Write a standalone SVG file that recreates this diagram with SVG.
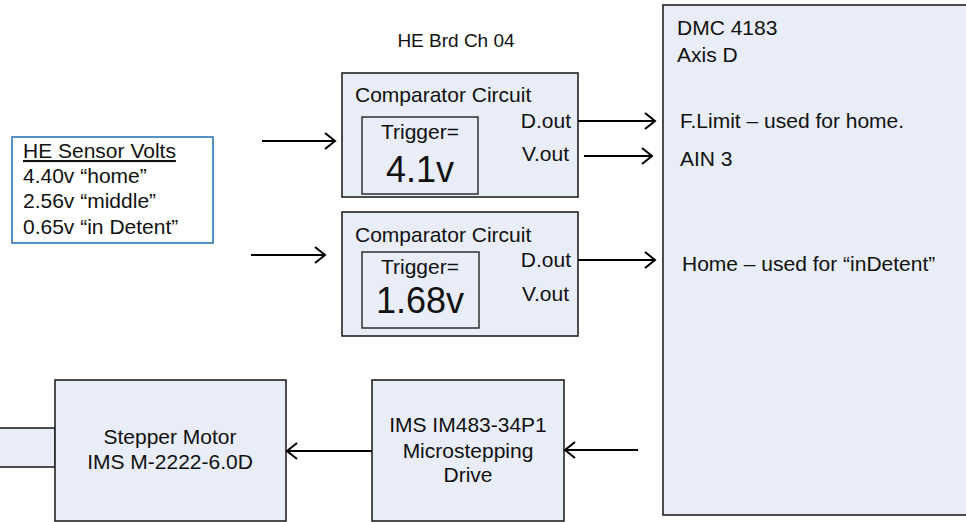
<svg xmlns="http://www.w3.org/2000/svg" width="966" height="522" viewBox="0 0 966 522">
<defs>
<style>
text{font-family:"Liberation Sans",Arial,sans-serif;fill:#111;font-size:21px}
.box{fill:#E8EDF7;stroke:#222;stroke-width:1.6}
.inner{fill:none;stroke:#222;stroke-width:1.4}
.conn{stroke:#000;stroke-width:2;fill:none}
.mid{text-anchor:middle}
.end{text-anchor:end}
</style>
<marker id="arr" markerUnits="userSpaceOnUse" markerWidth="14" markerHeight="20" refX="11" refY="9" orient="auto" viewBox="0 0 14 18">
<path d="M1,1 L11,9 L1,17" fill="none" stroke="#000" stroke-width="2"/>
</marker>
</defs>
<rect width="966" height="522" fill="#fff"/>

<g id="dmc">
<rect class="box" x="663" y="5" width="310" height="510"/>
<text x="677" y="35">DMC 4183</text>
<text x="677" y="62">Axis D</text>
<text x="680" y="128">F.Limit – used for home.</text>
<text x="680" y="166">AIN 3</text>
<text x="682" y="271">Home – used for “inDetent”</text>
</g>

<g id="label-heb">
<text x="456" y="47" class="mid" style="font-size:19px">HE Brd Ch 04</text>
</g>

<g id="comp1">
<rect class="box" x="342" y="73" width="236" height="124"/>
<text x="355" y="102">Comparator Circuit</text>
<rect class="inner" x="362" y="117" width="116" height="77"/>
<text x="420" y="139" class="mid">Trigger=</text>
<text x="420" y="182" class="mid" style="font-size:36px">4.1v</text>
<text x="571" y="128" class="end">D.out</text>
<text x="569" y="161" class="end">V.out</text>
</g>

<g id="comp2">
<rect class="box" x="342" y="212" width="236" height="124"/>
<text x="355" y="242">Comparator Circuit</text>
<rect class="inner" x="362" y="252" width="117" height="76"/>
<text x="420" y="274" class="mid">Trigger=</text>
<text x="420" y="313" class="mid" style="font-size:36px">1.68v</text>
<text x="571" y="267" class="end">D.out</text>
<text x="569" y="301" class="end">V.out</text>
</g>

<g id="sensor">
<rect x="12" y="137" width="201" height="106" fill="#fff" stroke="#2E75B6" stroke-width="1.6"/>
<text x="23" y="158" text-decoration="underline">HE Sensor Volts</text>
<text x="23" y="183">4.40v “home”</text>
<text x="23" y="208">2.56v “middle”</text>
<text x="23" y="234">0.65v “in Detent”</text>
</g>

<g id="motor">
<rect class="box" x="-5" y="428" width="60" height="39"/>
<rect class="box" x="55" y="380" width="231" height="141"/>
<text x="170" y="444" class="mid">Stepper Motor</text>
<text x="170" y="469" class="mid">IMS M-2222-6.0D</text>
</g>

<g id="drive">
<rect class="box" x="372" y="380" width="192" height="141"/>
<text x="468" y="432" class="mid">IMS IM483-34P1</text>
<text x="468" y="458" class="mid">Microstepping</text>
<text x="468" y="482" class="mid">Drive</text>
</g>

<g id="connectors">
<line class="conn" x1="262" y1="141" x2="335" y2="141" marker-end="url(#arr)"/>
<line class="conn" x1="251" y1="255" x2="325" y2="255" marker-end="url(#arr)"/>
<line class="conn" x1="578" y1="121" x2="655" y2="121" marker-end="url(#arr)"/>
<line class="conn" x1="584" y1="156" x2="652" y2="156" marker-end="url(#arr)"/>
<line class="conn" x1="578" y1="260" x2="655" y2="260" marker-end="url(#arr)"/>
<line class="conn" x1="638" y1="450" x2="565" y2="450" marker-end="url(#arr)"/>
<line class="conn" x1="372" y1="451" x2="287" y2="451" marker-end="url(#arr)"/>
</g>
</svg>
